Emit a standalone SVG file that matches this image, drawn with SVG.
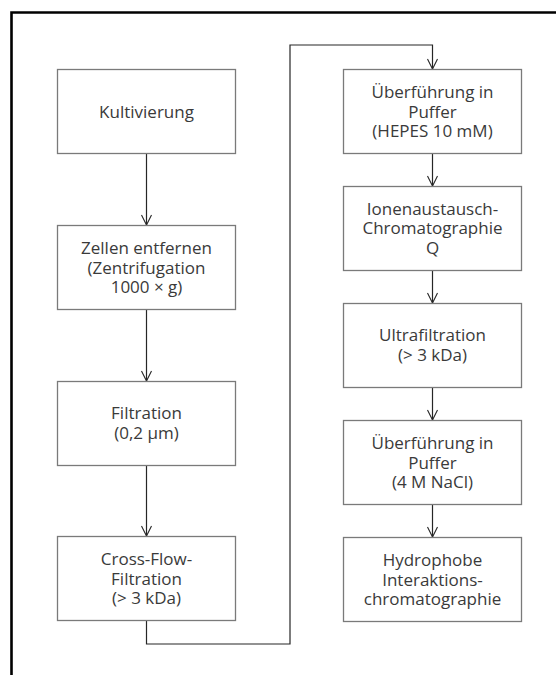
<svg xmlns="http://www.w3.org/2000/svg" width="556" height="675" viewBox="0 0 556 675">
  <defs>
    <style>
      .box { fill: #ffffff; stroke: #7a7a7a; stroke-width: 1.3; }
      .lbl { font-family: "Open Sans", "Liberation Sans", sans-serif; font-size: 17px; fill: #3a3a3a; text-anchor: middle; }
      .wire { fill: none; stroke: #262626; stroke-width: 1.2; }
      .frame { fill: none; stroke: #000000; stroke-width: 2.6; }
    </style>
    <marker id="arrow" viewBox="0 0 12 12" refX="11" refY="6" markerWidth="12" markerHeight="12" markerUnits="userSpaceOnUse" orient="auto">
      <path d="M1,1 L11,6 L1,11" fill="none" stroke="#262626" stroke-width="1.1"/>
    </marker>
  </defs>

  <rect width="556" height="675" fill="#ffffff"/>
  <!-- outer frame, open to the right and bottom -->
  <path class="frame" d="M11.5,680 L11.5,12.5 L560,12.5"/>

  <g id="connectors">
    <path class="wire" marker-end="url(#arrow)" d="M146.5,154 L146.5,225"/>
    <path class="wire" marker-end="url(#arrow)" d="M146.5,309 L146.5,381"/>
    <path class="wire" marker-end="url(#arrow)" d="M146.5,465 L146.5,536"/>
    <path class="wire" marker-end="url(#arrow)" d="M146.5,620 L146.5,644 L290,644 L290,45 L432.5,45 L432.5,69"/>
    <path class="wire" marker-end="url(#arrow)" d="M432.5,154 L432.5,186"/>
    <path class="wire" marker-end="url(#arrow)" d="M432.5,270 L432.5,303"/>
    <path class="wire" marker-end="url(#arrow)" d="M432.5,387 L432.5,420"/>
    <path class="wire" marker-end="url(#arrow)" d="M432.5,504 L432.5,537"/>
  </g>

  <g id="kultivierung">
    <rect class="box" x="57.5" y="69.5" width="178" height="84"/>
    <text class="lbl" x="146.5" y="118">Kultivierung</text>
  </g>
  <g id="zellen-entfernen">
    <rect class="box" x="57.5" y="225.5" width="178" height="84"/>
    <text class="lbl" x="146.5" y="254">Zellen entfernen</text>
    <text class="lbl" x="146.5" y="273.5">(Zentrifugation</text>
    <text class="lbl" x="146.5" y="293">1000 × g)</text>
  </g>
  <g id="filtration">
    <rect class="box" x="57.5" y="381.5" width="178" height="84"/>
    <text class="lbl" x="146.5" y="419">Filtration</text>
    <text class="lbl" x="146.5" y="439">(0,2 µm)</text>
  </g>
  <g id="cross-flow">
    <rect class="box" x="57.5" y="536.5" width="178" height="84"/>
    <text class="lbl" x="146.5" y="565">Cross-Flow-</text>
    <text class="lbl" x="146.5" y="584.5">Filtration</text>
    <text class="lbl" x="146.5" y="604">(&gt; 3 kDa)</text>
  </g>

  <g id="ueberfuehrung-hepes">
    <rect class="box" x="343.5" y="69.5" width="178" height="84"/>
    <text class="lbl" x="432.5" y="98">Überführung in</text>
    <text class="lbl" x="432.5" y="117.5">Puffer</text>
    <text class="lbl" x="432.5" y="137">(HEPES 10 mM)</text>
  </g>
  <g id="ionenaustausch">
    <rect class="box" x="343.5" y="186.5" width="178" height="84"/>
    <text class="lbl" x="432.5" y="214.5">Ionenaustausch-</text>
    <text class="lbl" x="432.5" y="234">Chromatographie</text>
    <text class="lbl" x="432.5" y="253.5">Q</text>
  </g>
  <g id="ultrafiltration">
    <rect class="box" x="343.5" y="303.5" width="178" height="84"/>
    <text class="lbl" x="432.5" y="341">Ultrafiltration</text>
    <text class="lbl" x="432.5" y="361">(&gt; 3 kDa)</text>
  </g>
  <g id="ueberfuehrung-nacl">
    <rect class="box" x="343.5" y="420.5" width="178" height="84"/>
    <text class="lbl" x="432.5" y="449">Überführung in</text>
    <text class="lbl" x="432.5" y="468.5">Puffer</text>
    <text class="lbl" x="432.5" y="488">(4 M NaCl)</text>
  </g>
  <g id="hydrophobe">
    <rect class="box" x="343.5" y="537.5" width="178" height="84"/>
    <text class="lbl" x="432.5" y="566">Hydrophobe</text>
    <text class="lbl" x="432.5" y="585.5">Interaktions-</text>
    <text class="lbl" x="432.5" y="605">chromatographie</text>
  </g>
</svg>
